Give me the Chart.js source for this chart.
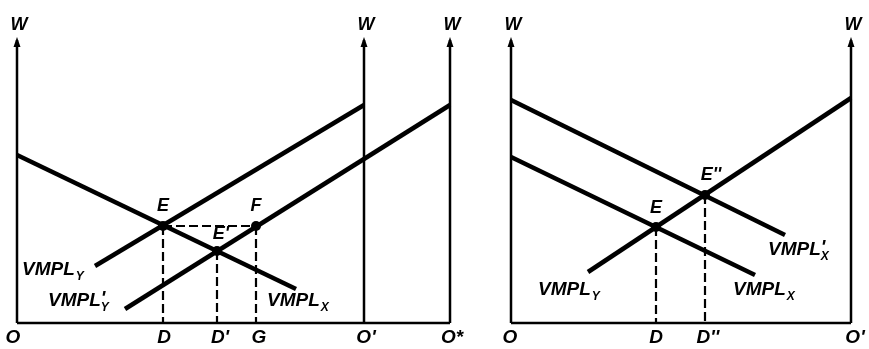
<!DOCTYPE html>
<html><head><meta charset="utf-8">
<script src="https://cdn.jsdelivr.net/npm/chart.js@4.4.1/dist/chart.umd.min.js"></script>
<style>
html,body{margin:0;padding:0;background:#fff;overflow:hidden}
#wrap{position:relative;width:869px;height:349px;background:#fff}
canvas{position:absolute;top:0}
#c1{left:0}
#c2{left:470px}
</style></head><body>
<div id="wrap"><canvas id="c1" width="470" height="349"></canvas><canvas id="c2" width="399" height="349"></canvas></div>
<script>
// ---------- DATA (x = labour measured from O, y = wage W) ----------
// Left panel
const leftVMPLX   = [{x:0, y:168}, {x:279, y:34}];
const leftVMPLY   = [{x:78, y:57}, {x:347, y:218}];
const leftVMPLY2  = [{x:108, y:14}, {x:433, y:218}];   // VMPL'_Y
const leftEqNames = ['E', "E'", 'F'];
const leftEqX     = [146, 200, 239];
const leftEqW     = [97, 72, 97];
const leftTickNames = ['D', "D'", 'G'];
const leftOrigins   = ['O', "O'", 'O*'];
const leftOriginX   = [0, 347, 433];
// Right panel
const rightVMPLX  = [{x:0, y:166}, {x:244, y:48}];
const rightVMPLX2 = [{x:0, y:223}, {x:274, y:88}];     // VMPL'_X
const rightVMPLY  = [{x:77, y:51}, {x:340, y:225}];
const rightEqNames = ['E', "E''"];
const rightEqX     = [145, 194];
const rightEqW     = [96, 128];
const rightTickNames = ['D', "D''"];
const rightOrigins   = ['O', "O'"];
const rightOriginX   = [0, 340];
const W_TOP = 283;   // top of the wage axes

// ---------- helpers ----------
const FONT = '"Liberation Sans", Arial, Helvetica, sans-serif';
function line(data, w, dash) {
  return {data, showLine:true, borderColor:'#000', backgroundColor:'#000', borderWidth:w,
          borderDash:dash||[], pointRadius:0, fill:false, tension:0, clip:false, borderCapStyle:'butt'};
}
function dots(xs, ws) {
  return {data: xs.map((x,i)=>({x, y:ws[i]})), showLine:false, pointRadius:5,
          pointBackgroundColor:'#000', pointBorderColor:'#000', pointBorderWidth:0};
}
function axes(originX) {
  const ds = originX.map(x => line([{x, y:0}, {x, y:W_TOP}], 2.5));
  ds.push(line([{x:originX[0], y:0}, {x:originX[originX.length-1], y:0}], 2.5));
  return ds;
}
function drops(xs, ws) {
  return xs.map((x,i) => line([{x, y:ws[i]}, {x, y:0}], 2.2, [9,4]));
}

const diagramPlugin = {
  id: 'diagram',
  afterDatasetsDraw(chart, args, o) {
    const ctx = chart.ctx, sx = chart.scales.x, sy = chart.scales.y;
    ctx.save();
    ctx.fillStyle = '#000';
    // arrowheads & W labels
    o.axes.forEach(x => {
      const px = sx.getPixelForValue(x), py = sy.getPixelForValue(W_TOP);
      ctx.beginPath();
      ctx.moveTo(px, py - 3); ctx.lineTo(px - 3.5, py + 7); ctx.lineTo(px + 3.5, py + 7); ctx.closePath();
      ctx.fill();
      ctx.font = 'italic bold 18px ' + FONT;
      ctx.textAlign = 'center'; ctx.textBaseline = 'middle';
      ctx.fillText('W', px + 2, py - 15);
    });
    // text labels
    o.labels.forEach(l => {
      const px = sx.getPixelForValue(l.x) + (l.dx||0), py = sy.getPixelForValue(l.y) + (l.dy||0);
      ctx.font = 'italic bold ' + (l.size||19) + 'px ' + FONT;
      ctx.textBaseline = 'middle';
      ctx.textAlign = l.align || 'center';
      ctx.fillText(l.text, px, py);
      if (l.sub) {
        const w = ctx.measureText(l.text).width;
        let x0 = px + (l.align === 'left' ? w : w/2);
        if (l.prime) { ctx.textAlign = 'left'; ctx.fillText("'", x0, py - 2); }
        ctx.font = 'italic bold 12px ' + FONT;
        ctx.textAlign = 'left';
        ctx.fillText(l.sub, x0 + (l.prime ? 0 : 1), py + 7);
      }
    });
    ctx.restore();
  }
};

function mkChart(id, xr, yr, datasets, spec) {
  return new Chart(document.getElementById(id), {
    type: 'scatter',
    data: {datasets},
    options: {
      responsive:false, animation:false, devicePixelRatio:1, events:[],
      layout:{padding:0, autoPadding:false},
      plugins:{legend:{display:false}, tooltip:{enabled:false}, diagram: spec},
      scales:{x:{type:'linear', display:false, min:xr[0], max:xr[1]},
              y:{type:'linear', display:false, min:yr[0], max:yr[1]}}
    },
    plugins:[diagramPlugin]
  });
}

// ---------- left panel ----------
const leftDatasets = [
  ...axes(leftOriginX),
  ...drops(leftEqX, leftEqW),
  line([{x:leftEqX[0], y:leftEqW[0]}, {x:leftEqX[2], y:leftEqW[2]}], 2.2, [9,4]),
  line(leftVMPLX, 4.5), line(leftVMPLY, 4.5), line(leftVMPLY2, 4.5),
  dots(leftEqX, leftEqW)
];
const leftLabels = [
  {x:leftEqX[0], y:leftEqW[0], dy:-20, text:leftEqNames[0], size:18},
  {x:leftEqX[1], y:leftEqW[1], dx:4, dy:-17, text:leftEqNames[1], size:18},
  {x:leftEqX[2], y:leftEqW[2], dy:-20, text:leftEqNames[2], size:18},
  {x:5, y:53, text:'VMPL', sub:'Y', align:'left'},
  {x:31, y:22, text:'VMPL', prime:true, sub:'Y', align:'left'},
  {x:250, y:22, text:'VMPL', sub:'X', align:'left'},
  ...leftEqX.map((x,i)=>({x, y:0, dx: i===0?1:3, dy:15, text:leftTickNames[i]})),
  ...leftOriginX.map((x,i)=>({x, y:0, dx: i===0?-4:2, dy:15, text:leftOrigins[i]}))
];
mkChart('c1', [-17, 453], [-26, 323], leftDatasets, {axes:leftOriginX, labels:leftLabels});

// ---------- right panel ----------
const rightDatasets = [
  ...axes(rightOriginX),
  ...drops(rightEqX, rightEqW),
  line(rightVMPLX, 4.5), line(rightVMPLX2, 4.5), line(rightVMPLY, 4.5),
  dots(rightEqX, rightEqW)
];
const rightLabels = [
  {x:rightEqX[0], y:rightEqW[0], dy:-19, text:rightEqNames[0], size:18},
  {x:rightEqX[1], y:rightEqW[1], dx:6, dy:-20, text:rightEqNames[1], size:18},
  {x:27, y:33, text:'VMPL', sub:'Y', align:'left'},
  {x:222, y:33, text:'VMPL', sub:'X', align:'left'},
  {x:257, y:73, text:'VMPL', prime:true, sub:'X', align:'left'},
  ...rightEqX.map((x,i)=>({x, y:0, dx: i===0?0:3, dy:15, text:rightTickNames[i]})),
  ...rightOriginX.map((x,i)=>({x, y:0, dx: i===0?-1:4, dy:15, text:rightOrigins[i]}))
];
mkChart('c2', [-41, 358], [-26, 323], rightDatasets, {axes:rightOriginX, labels:rightLabels});
</script>
</body></html>
